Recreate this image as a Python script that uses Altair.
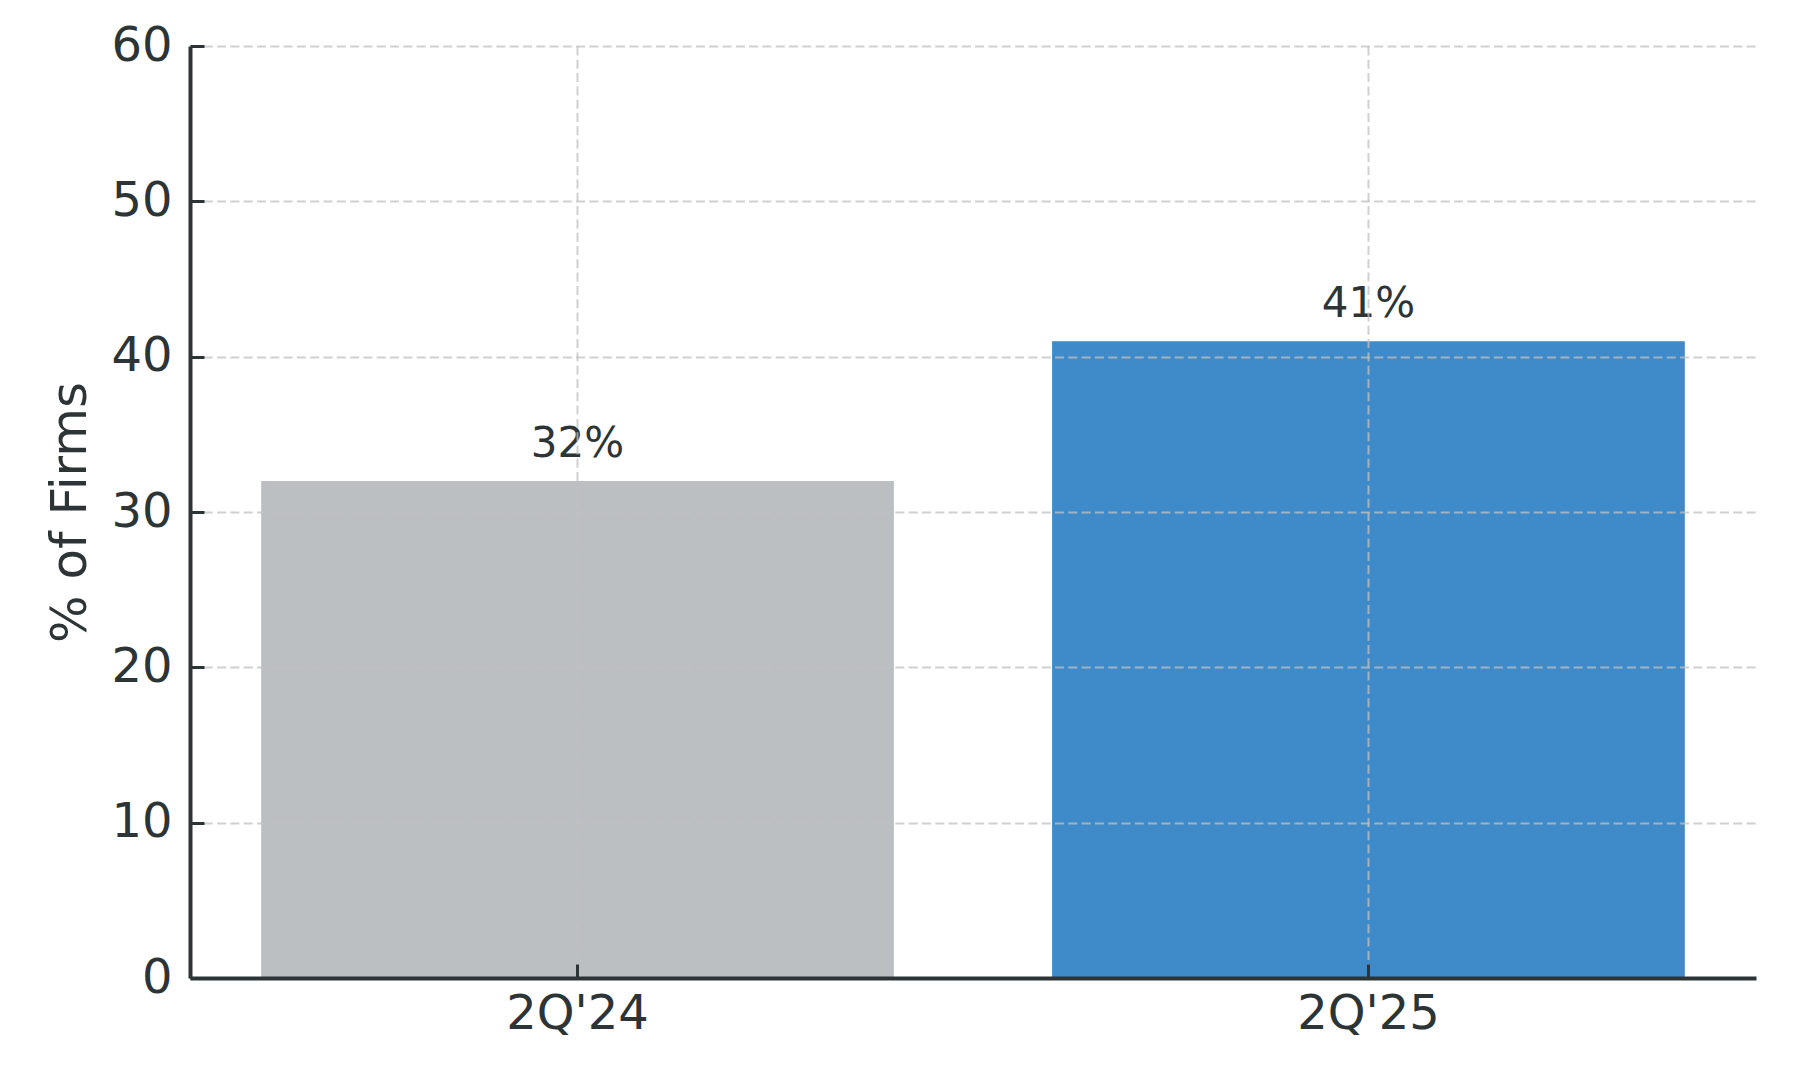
import altair as alt
import pandas as pd

periods = ["2Q'24", "2Q'25"]
values = [32, 41]
labels = ["32%", "41%"]
bar_colors = ["#bcbfc2", "#3f8bca"]
y_ticks = [0, 10, 20, 30, 40, 50, 60]

df = pd.DataFrame({"period": periods, "value": values, "label": labels})

TEXT = "#2d3436"
FONT = "DejaVu Sans"

x_scale = alt.Scale(domain=periods, paddingInner=0.2, paddingOuter=0.09)
y_scale = alt.Scale(domain=[0, 60], nice=False)

main_x_axis = alt.Axis(
    title=None, labelAngle=0, labelFontSize=48, labelFont=FONT, labelColor=TEXT,
    labelPadding=12, ticks=False, tickSize=0, domain=True, domainColor=TEXT,
    domainWidth=4, grid=True, gridColor="#c0c0c0", gridOpacity=0.75, gridWidth=2,
    gridDash=[9, 4.3], bandPosition=0.5, zindex=1,
)
main_y_axis = alt.Axis(
    title="% of Firms", titleFontSize=50, titleFont=FONT, titleColor=TEXT,
    titleFontWeight="normal", titlePadding=15,
    values=y_ticks, labelFontSize=48, labelFont=FONT, labelColor=TEXT,
    labelPadding=18, ticks=False, tickSize=0, domain=True, domainColor=TEXT,
    domainWidth=4, grid=True, gridColor="#c0c0c0", gridOpacity=0.75, gridWidth=2,
    gridDash=[9, 4.3], zindex=1,
)

bars = alt.Chart(df).mark_bar().encode(
    x=alt.X("period:N", scale=x_scale, axis=main_x_axis, sort=periods),
    y=alt.Y("value:Q", scale=y_scale, axis=main_y_axis),
    color=alt.Color("period:N", scale=alt.Scale(domain=periods, range=bar_colors), legend=None),
)

text = alt.Chart(df).mark_text(
    fontSize=42, font=FONT, color=TEXT, baseline="alphabetic", align="center", dy=-24
).encode(
    x=alt.X("period:N", scale=x_scale, sort=periods, axis=None),
    y=alt.Y("value:Q", scale=y_scale, axis=None),
    text="label:N",
)

tick_x_axis = alt.Axis(
    title=None, orient="bottom", offset=-14, labels=False, domain=False, grid=False,
    ticks=True, tickSize=14, tickWidth=3, tickColor=TEXT, bandPosition=0.5, zindex=2,
)
tick_y_axis = alt.Axis(
    title=None, orient="left", offset=-14, values=y_ticks, labels=False, domain=False,
    grid=False, ticks=True, tickSize=14, tickWidth=3, tickColor=TEXT, zindex=2,
)

tick_layer = alt.Chart(df).mark_bar(opacity=0).encode(
    x=alt.X("period:N", scale=x_scale, axis=tick_x_axis, sort=periods),
    y=alt.Y("value:Q", scale=y_scale, axis=tick_y_axis),
)

chart = (
    alt.layer(bars, text, tick_layer)
    .resolve_axis(x="independent", y="independent")
    .properties(
        width=1566,
        height=932,
        autosize=alt.AutoSizeParams(type="none"),
        padding={"left": 182, "top": 38, "right": 30, "bottom": 90},
    )
    .configure_view(stroke=None)
)

chart.save("out.html", embed_options={"renderer": "svg", "actions": False})
